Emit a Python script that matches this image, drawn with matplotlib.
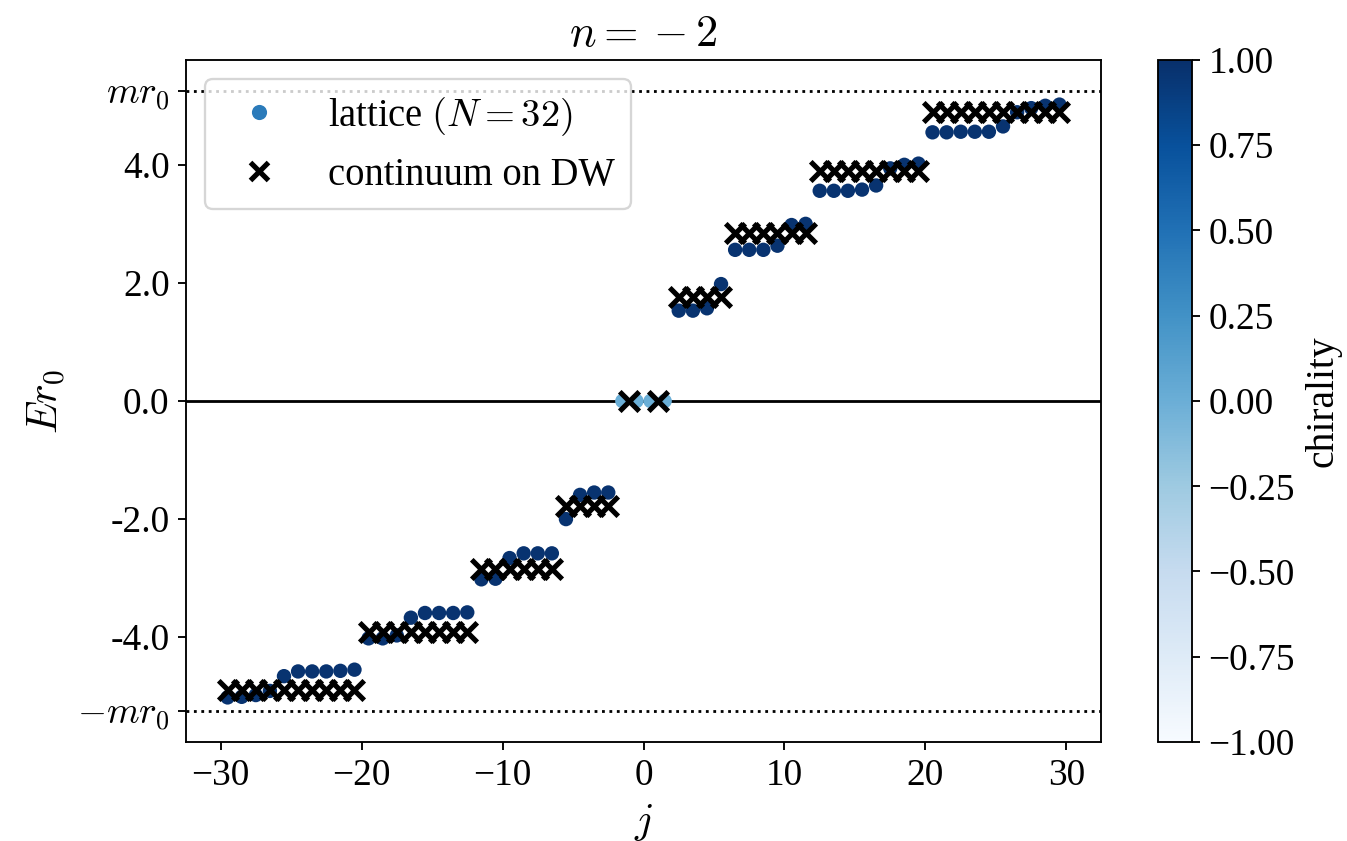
import matplotlib
matplotlib.use("Agg")
import matplotlib.pyplot as plt
from matplotlib.lines import Line2D
from matplotlib.colors import Normalize

plt.rcParams['font.family'] = ['Liberation Serif', 'DejaVu Serif']
plt.rcParams['mathtext.fontset'] = 'cm'

# mass scale (in units of 1/r0)
m_r0 = 5.25

# lattice spectrum, grouped by level
j_lat = [-29.5, -28.5, -27.5, -26.5, -25.5, -24.5, -23.5, -22.5, -21.5, -20.5,
         -19.5, -18.5, -17.5, -16.5, -15.5, -14.5, -13.5, -12.5,
         -11.5, -10.5, -9.5, -8.5, -7.5, -6.5,
         -5.5, -4.5, -3.5, -2.5,
         -1.5, -0.5, 0.5, 1.5,
         2.5, 3.5, 4.5, 5.5,
         6.5, 7.5, 8.5, 9.5, 10.5, 11.5,
         12.5, 13.5, 14.5, 15.5, 16.5, 17.5, 18.5, 19.5,
         20.5, 21.5, 22.5, 23.5, 24.5, 25.5, 26.5, 27.5, 28.5, 29.5]
E_lat = [-5.02, -5.01, -4.98, -4.91, -4.66, -4.58, -4.58, -4.58, -4.57, -4.55,
         -4.02, -4.02, -3.97, -3.67, -3.59, -3.59, -3.59, -3.58,
         -3.02, -3.01, -2.66, -2.58, -2.58, -2.58,
         -2.00, -1.59, -1.55, -1.55,
         0.00, 0.00, 0.00, 0.00,
         1.53, 1.53, 1.57, 1.98,
         2.56, 2.56, 2.56, 2.63, 2.98, 3.00,
         3.56, 3.56, 3.56, 3.58, 3.65, 3.94, 4.00, 4.02,
         4.55, 4.55, 4.56, 4.56, 4.56, 4.65, 4.89, 4.96, 5.00, 5.02]
chir_lat = [0.97, 0.97, 0.97, 0.97, 0.97, 0.97, 0.97, 0.97, 0.97, 0.97,
            0.97, 0.97, 0.97, 0.97, 0.97, 0.97, 0.97, 0.97,
            0.97, 0.97, 0.97, 0.97, 0.97, 0.97,
            0.97, 0.97, 0.97, 0.97,
            0.00, 0.00, 0.00, 0.00,
            0.97, 0.97, 0.97, 0.97,
            0.97, 0.97, 0.97, 0.97, 0.97, 0.97,
            0.97, 0.97, 0.97, 0.97, 0.97, 0.97, 0.97, 0.97,
            0.97, 0.97, 0.97, 0.97, 0.97, 0.97, 0.97, 0.97, 0.97, 0.97]

# continuum spectrum on the domain wall
j_cont = [-29.5, -28.5, -27.5, -26.5, -25.5, -24.5, -23.5, -22.5, -21.5, -20.5,
          -19.5, -18.5, -17.5, -16.5, -15.5, -14.5, -13.5, -12.5,
          -11.5, -10.5, -9.5, -8.5, -7.5, -6.5,
          -5.5, -4.5, -3.5, -2.5,
          -1.0, 1.0,
          2.5, 3.5, 4.5, 5.5,
          6.5, 7.5, 8.5, 9.5, 10.5, 11.5,
          12.5, 13.5, 14.5, 15.5, 16.5, 17.5, 18.5, 19.5,
          20.5, 21.5, 22.5, 23.5, 24.5, 25.5, 26.5, 27.5, 28.5, 29.5]
E_cont = [-4.90, -4.90, -4.90, -4.90, -4.90, -4.90, -4.90, -4.90, -4.90, -4.90,
          -3.91, -3.91, -3.91, -3.91, -3.91, -3.91, -3.91, -3.91,
          -2.85, -2.85, -2.85, -2.85, -2.85, -2.85,
          -1.78, -1.78, -1.78, -1.78,
          0.00, 0.00,
          1.76, 1.76, 1.76, 1.76,
          2.85, 2.85, 2.85, 2.85, 2.85, 2.85,
          3.90, 3.90, 3.90, 3.90, 3.90, 3.90, 3.90, 3.90,
          4.89, 4.89, 4.89, 4.89, 4.89, 4.89, 4.89, 4.89, 4.89, 4.89]

y_ticks = [-m_r0, -4.0, -2.0, 0.0, 2.0, 4.0, m_r0]
y_ticklabels = [r'$-mr_0$', '-4.0', '-2.0', '0.0', '2.0', '4.0', r'$mr_0$']

W, H, DPI = 1347, 841, 168
fig = plt.figure(figsize=(W / DPI, H / DPI), dpi=DPI)
ax = fig.add_axes([186 / W, 1 - 742 / H, (1101 - 186) / W, (742 - 60) / H])
cax = fig.add_axes([1158 / W, 1 - 742 / H, 34 / W, (742 - 60) / H])

norm = Normalize(vmin=-1, vmax=1)
sc = ax.scatter(j_lat, E_lat, c=chir_lat, cmap='Blues', norm=norm, s=38,
                edgecolors='none', zorder=3)
ax.scatter(j_cont, E_cont, marker='x', color='black', s=70, linewidths=2.2,
           zorder=4)

ax.axhline(0, color='black', lw=1.2, zorder=1)
ax.axhline(m_r0, color='black', lw=1.2, ls=':', zorder=1)
ax.axhline(-m_r0, color='black', lw=1.2, ls=':', zorder=1)

ax.set_ylim(-1.1 * m_r0, 1.1 * m_r0)
ax.set_yticks(y_ticks)
ax.set_yticklabels(y_ticklabels)
ax.set_xticks([-30, -20, -10, 0, 10, 20, 30])
ax.tick_params(labelsize=16)

ax.set_xlabel(r'$j$', fontsize=18)
ax.set_ylabel(r'$Er_0$', fontsize=18)
ax.set_title(r'$n={}-2$', fontsize=19)

handles = [
    Line2D([], [], ls='none', marker='o', markersize=6.5,
           markerfacecolor='#2b7bba', markeredgecolor='none'),
    Line2D([], [], ls='none', marker='x', markersize=7.5,
           color='black', markeredgewidth=2.2),
]
ax.legend(handles, [r'lattice $(N=32)$', 'continuum on DW'],
          loc='upper left', fontsize=16.5, framealpha=0.8)

cb = fig.colorbar(sc, cax=cax)
cb.set_ticks([-1.0, -0.75, -0.5, -0.25, 0.0, 0.25, 0.5, 0.75, 1.0])
cb.ax.tick_params(labelsize=16)
cb.set_label('chirality', fontsize=17)

fig.savefig('out.png', dpi=DPI)
